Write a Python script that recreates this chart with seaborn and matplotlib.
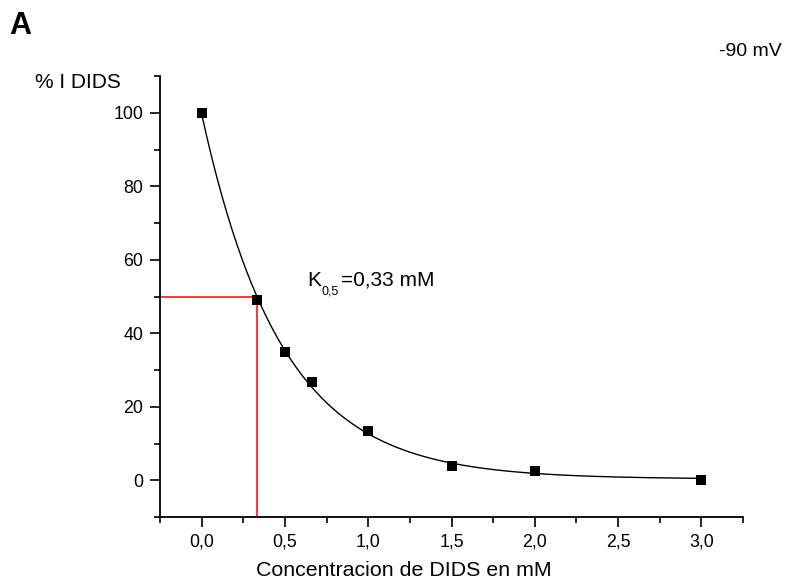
import numpy as np
import pandas as pd
import matplotlib
matplotlib.use("Agg")
import matplotlib.pyplot as plt
import seaborn as sns
from matplotlib.ticker import MultipleLocator, FuncFormatter

# Data
conc_mM = [0.0, 0.33, 0.5, 0.66, 1.0, 1.5, 2.0, 3.0]
pct_I_DIDS = [100.0, 49.1, 34.9, 26.7, 13.3, 3.9, 2.4, 0.0]
k05 = 0.33
half_level = 50.0

sns.set_style("ticks")
plt.rcParams['font.family'] = ['Liberation Sans', 'DejaVu Sans']
plt.rcParams['text.color'] = 'black'

df = pd.DataFrame({"x": conc_mM, "y": pct_I_DIDS})

# Exponential decay fit y = y0 + A*exp(-x/t) (least squares over a grid of t)
xd = np.array(conc_mM)
yd = np.array(pct_I_DIDS)
best = None
for t in np.linspace(0.3, 0.7, 401):
    e = np.exp(-xd / t)
    M = np.vstack([e, np.ones_like(e)]).T
    coef, res, *_ = np.linalg.lstsq(M, yd, rcond=None)
    r = np.sum((M @ coef - yd) ** 2)
    if best is None or r < best[0]:
        best = (r, t, coef)
_, t_fit, (A_fit, y0_fit) = best
xf = np.linspace(0, 3, 300)
fit_df = pd.DataFrame({"x": xf, "y": y0_fit + A_fit * np.exp(-xf / t_fit)})

W, H = 787, 586
fig = plt.figure(figsize=(W / 100, H / 100), dpi=100)
ax = fig.add_axes([160 / W, 1 - 517 / H, (743 - 160) / W, (517 - 76) / H])

ax.plot([-0.25, k05], [half_level, half_level], color="red", lw=1.1, zorder=2)
ax.plot([k05, k05], [-10, half_level], color="red", lw=1.1, zorder=2)

sns.lineplot(data=fit_df, x="x", y="y", ax=ax, color="black", lw=1.0, zorder=3)
sns.scatterplot(data=df, x="x", y="y", ax=ax, marker="s", s=42, color="black",
                edgecolor="black", linewidth=0, zorder=4)

ax.set_xlim(-0.25, 3.25)
ax.set_ylim(-10, 110)
ax.xaxis.set_major_locator(MultipleLocator(0.5))
ax.xaxis.set_minor_locator(MultipleLocator(0.25))
ax.yaxis.set_major_locator(MultipleLocator(20))
ax.yaxis.set_minor_locator(MultipleLocator(10))
ax.xaxis.set_major_formatter(FuncFormatter(lambda v, p: f"{v:.1f}".replace(".", ",")))
ax.yaxis.set_major_formatter(FuncFormatter(lambda v, p: f"{v:.0f}"))
ax.tick_params(which="major", direction="out", length=7, width=1.2, labelsize=12.8,
               colors="black", labelcolor="black", pad=5)
ax.tick_params(which="minor", direction="out", length=4, width=1.2, colors="black")
sns.despine(ax=ax)
for s in ["left", "bottom"]:
    ax.spines[s].set_linewidth(1.3)
    ax.spines[s].set_color("black")
ax.set_xlabel("")
ax.set_ylabel("")

def px(x, y):
    return x / W, 1 - y / H

fig.text(*px(404, 571), "Concentracion de DIDS en mM", fontsize=15.4, ha="center", va="center")
fig.text(*px(307, 280), "K", fontsize=15, ha="left", va="center")
fig.text(*px(322, 292), "0,5", fontsize=9, ha="left", va="center")
fig.text(*px(341, 280), "=0,33 mM", fontsize=15, ha="left", va="center")

fig.text(*px(9, 26), "A", fontsize=22, fontweight="bold", ha="left", va="center")
fig.text(*px(35, 83), "% I DIDS", fontsize=15, ha="left", va="center")
fig.text(*px(782, 51), "-90 mV", fontsize=14, ha="right", va="center")

fig.savefig("out.png", dpi=100)
